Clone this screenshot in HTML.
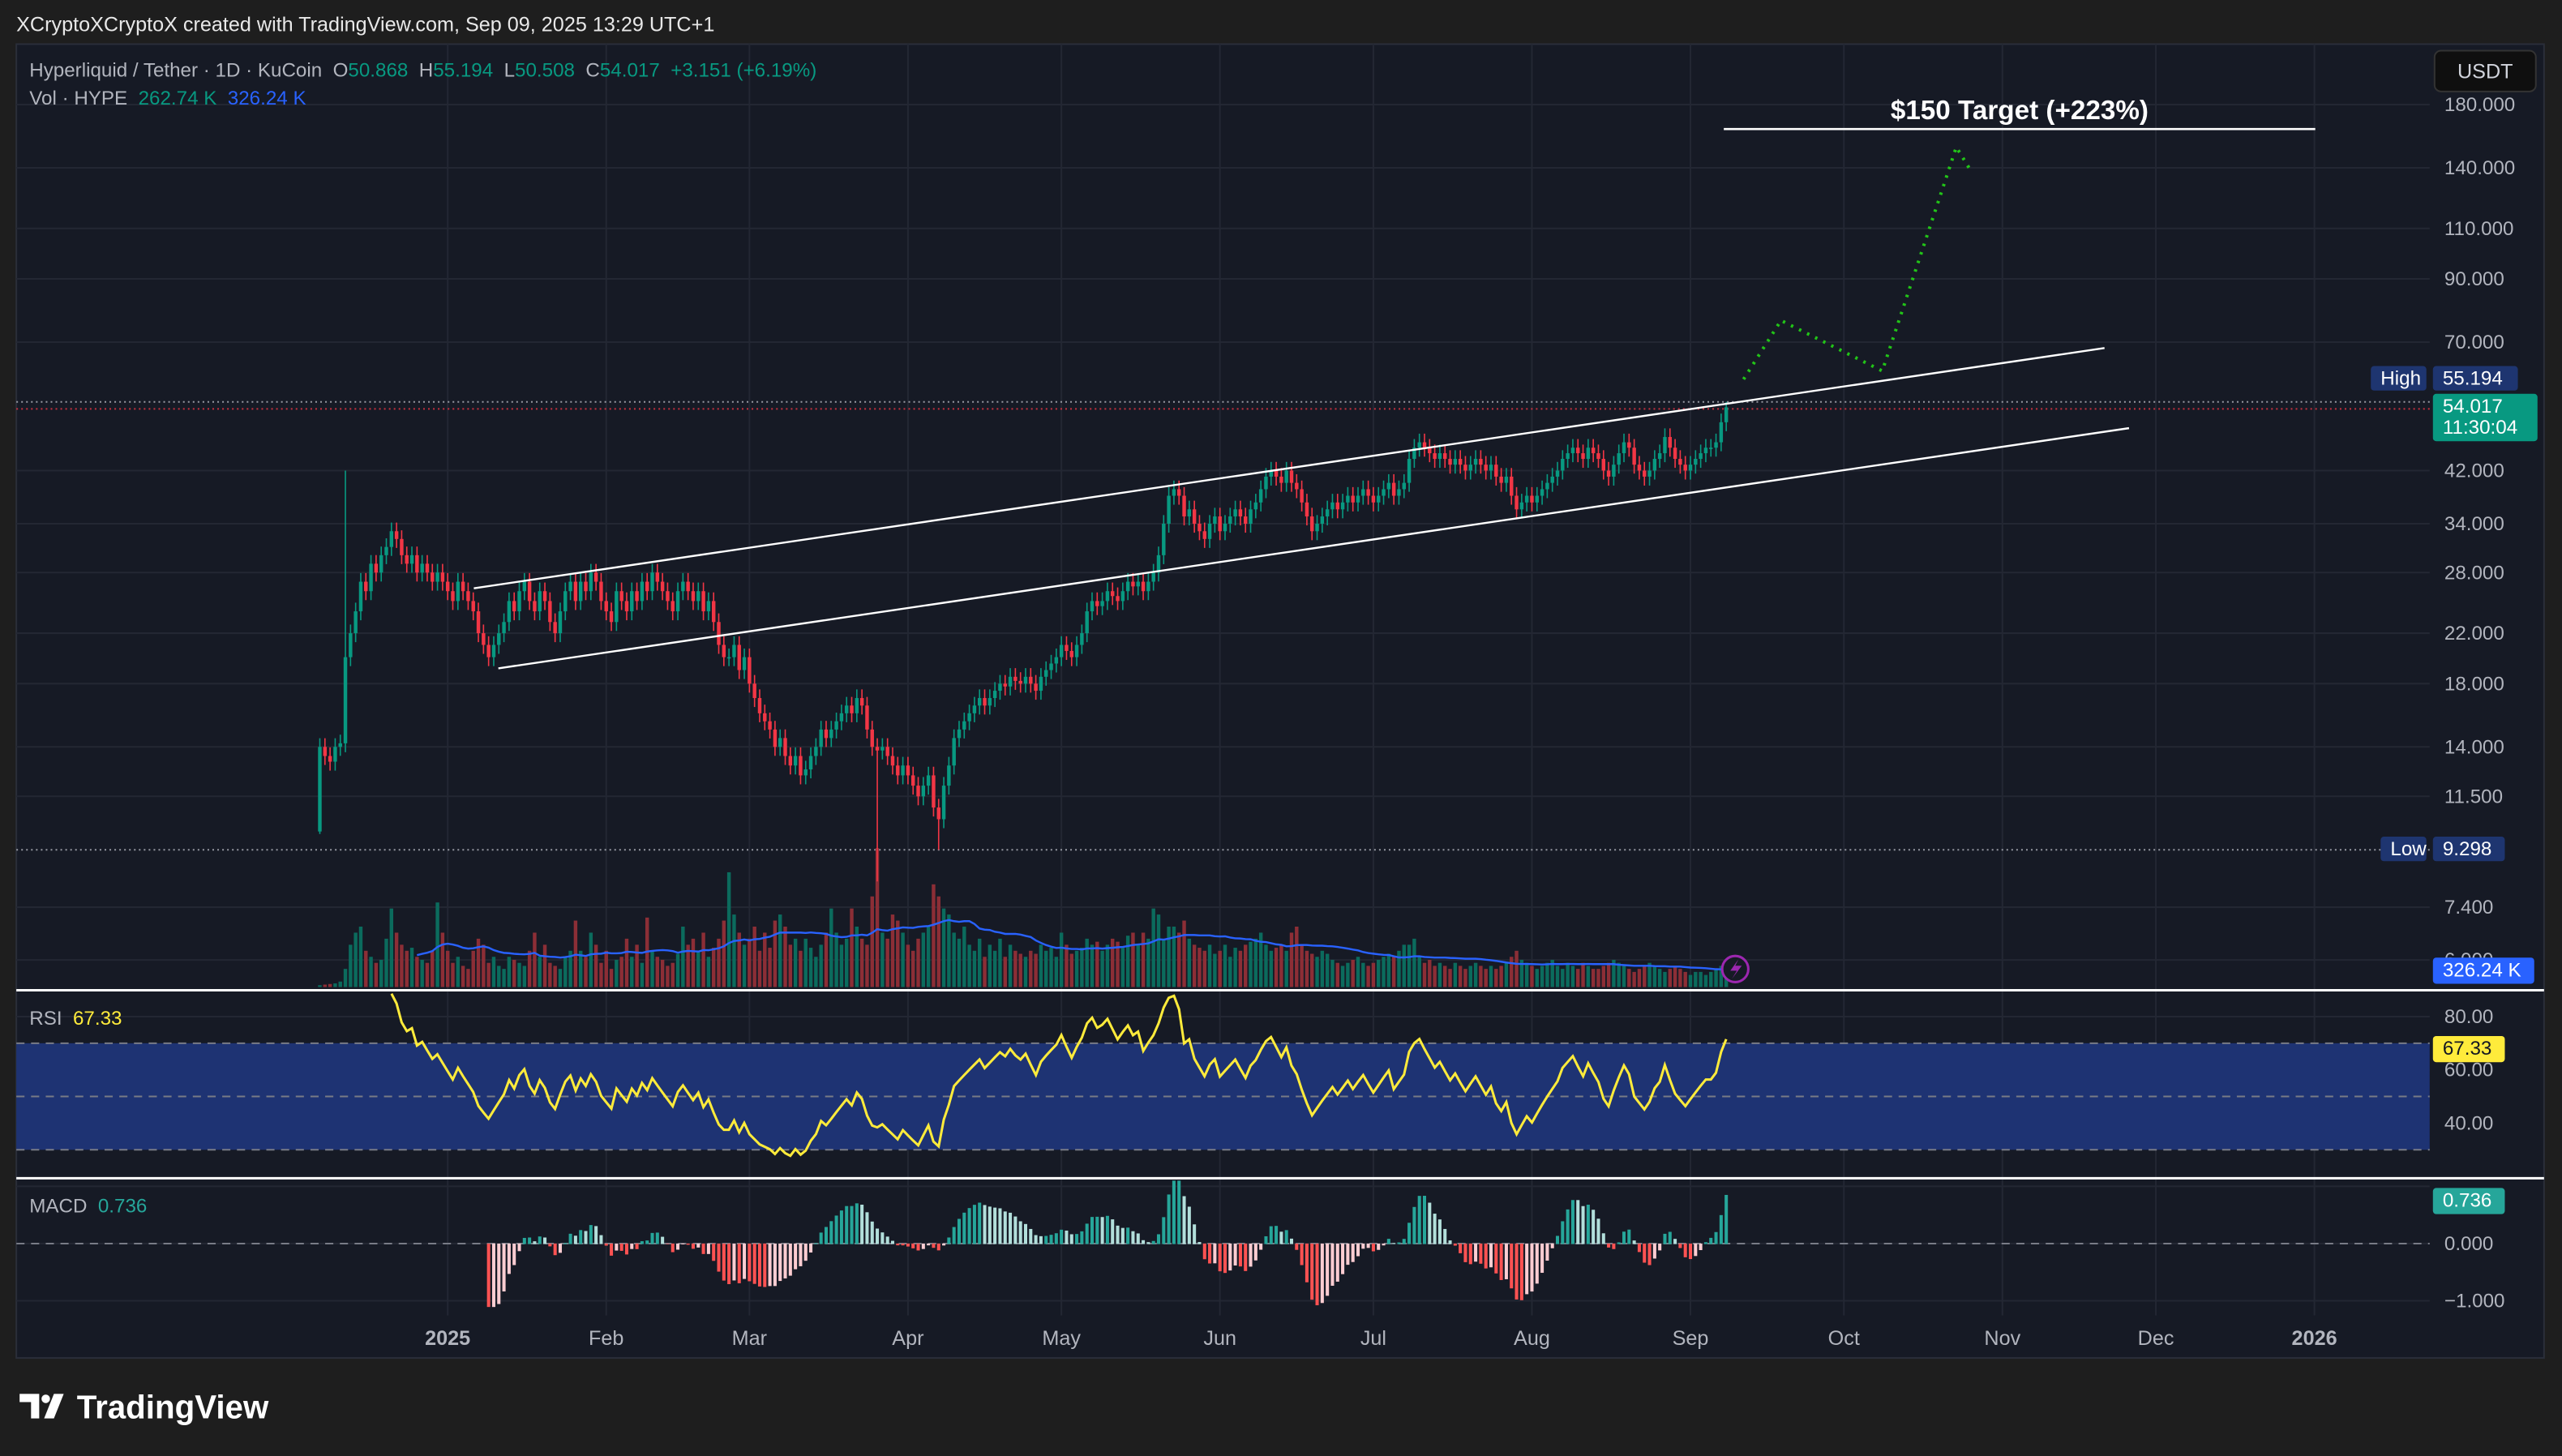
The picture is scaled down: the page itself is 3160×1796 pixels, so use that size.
<!DOCTYPE html>
<html><head><meta charset="utf-8"><style>
html,body{margin:0;padding:0;background:#1e1e1e;width:3160px;height:1796px;overflow:hidden}
svg{display:block}
text{font-family:"Liberation Sans",sans-serif;white-space:pre}
</style></head><body>
<svg id="c" xmlns="http://www.w3.org/2000/svg" width="3160" height="1796" viewBox="0 0 1568 891" preserveAspectRatio="none"></svg>
<script>
const startDay = -25;
const closes = [
14,13.5,13.2,14,14.2,20,22,24,27,26,
29,28,30,31,33,32,30,29,30,28,
29,28,27,28,27,26,25,27,26,25,
24,22,21,20,21,22,23,25,24,26,
27,25,24,26,25,23,22,24,26,27,
25,27,26,28,27,25,24,23,26,25,
24,26,25,27,26,28,27,26,25,24,
26,27,26,25,26,24,25,23,21,20,
20,21,19,20,18,17,16,15.5,15,14,
14.5,13.5,13,13.5,12.5,12.8,13.5,14,15,14.5,
15,15.5,16,16.5,16,17,16.5,15,14,13.8,
14,13.5,13,12.5,13,12.5,12,11.5,12,12.5,
11,10.5,12,13,14.5,15,15.5,16,16.5,17,
16.5,17,17.5,18,17.8,18.5,18.2,18,18.5,18,
17.5,18.5,19,19.5,20,21,20.5,20,21,22,
24,25,24.5,25,26,25.5,25,26,27,26.5,
27,26,27,28,30,34,38,39,38,35,
36,34,33,32,34,35,33,34,35,36,
35,34,36,37,39,41,42,41,40,42,
40,39,37,35,33,34,35,36,37,36,
37,38,37,38,39,38,37,38,39,40,
38,39,40,44,46,47,46,45,44,45,
44,43,44,43,42,43,44,43,42,43,
41,40,41,38,36,37,38,37,38,39,
40,41,42,44,45,46,45,44,46,45,
44,42,41,43,45,47,46,43,42,41,
42,44,45,48,46,44,43,42,43,44,
45,46,46,47,50.9,54.017];
const firstOpen = 10;
const specialHighs = {5:42, 275:55.194};
const specialLows = {0:9.9, 109:8.2, 121:9.298};
const volumes = [
30,40,50,60,90,300,700,900,1000,600,
500,400,450,800,1300,900,700,600,650,500,
450,400,600,1400,900,600,400,500,350,300,
600,800,700,400,500,350,300,500,450,400,
350,600,900,500,700,400,350,300,500,600,
1100,600,500,900,700,400,600,300,450,500,
800,500,700,400,1150,600,500,450,350,400,
550,1000,700,800,600,900,500,650,800,1100,
1900,1200,900,700,800,1000,600,900,650,1100,
1200,1000,700,800,600,800,650,500,700,900,
1300,900,700,800,1300,1000,800,700,1500,2300,
900,800,1200,1100,900,700,600,800,900,1000,
1700,1500,1300,1200,900,800,1000,700,600,800,
500,700,600,800,500,700,600,550,500,600,
550,700,600,650,500,900,700,550,600,650,
800,700,750,600,700,800,750,650,850,900,
700,900,800,1300,1200,800,1000,1000,900,1100,
800,700,650,600,700,550,600,700,500,650,
600,700,750,800,900,700,600,650,700,600,
900,1000,700,600,550,500,600,550,450,400,
350,400,450,500,400,350,400,450,500,550,
500,600,700,700,800,500,400,450,350,400,
350,300,400,350,300,350,400,350,300,350,
300,350,400,500,600,450,400,350,300,350,
400,450,350,300,400,350,300,400,350,300,
300,350,400,450,400,350,300,250,300,350,
400,350,300,250,300,350,300,250,200,250,
250,200,250,300,350,263];
const priceTicks = [180,140,110,90,70,42,34,28,22,18,14,11.5,7.4,6];
const priceTickLabels = ["180.000","140.000","110.000","90.000","70.000","42.000","34.000","28.000","22.000","18.000","14.000","11.500","7.400","6.000"];
const months = ["2025","Feb","Mar","Apr","May","Jun","Jul","Aug","Sep","Oct","Nov","Dec","2026"];
const monthDays = [0,31,59,90,120,151,181,212,243,273,304,334,365];
const rsiTicks = [80,60,40];
const macdTicks = [0,-1];
const macdTickLabels = ["0.000","\u22121.000"];
const projection = [[253.4,60.4],[260.7,76.3],[280.5,62.4],[295,152],[297.5,139.8]];

const S = document.getElementById('c');
const NS = 'http://www.w3.org/2000/svg';
function mk(tag, attrs, parent){const e=document.createElementNS(NS,tag);for(const k in attrs)e.setAttribute(k,attrs[k]);(parent||S).appendChild(e);return e;}
function tx(str, attrs, parent){const e=mk('text',attrs,parent);e.textContent=str;return e;}
const X = d => 274 + d*3.13;
const Y = p => 64 + (Math.log(180) - Math.log(p))*153.9;
const RY = v => 671 - (v-50)*1.63;
const MY = v => 761 - v*35;
const VY = v => 604 - v/2300*85;
const L=10, R=1487;

let e;
e=mk('rect',{x:0,y:0,width:1568,height:891,fill:'#1e1e1e'});


e=mk('rect',{x:10,y:27,width:1547,height:804,fill:'#161a25',stroke:'#2a2e39','stroke-width':1});


e=tx('XCryptoXCryptoX created with TradingView.com, Sep 09, 2025 13:29 UTC+1',{x:10,y:19,fill:'#e8e8e8','font-size':12.5});



const grid = mk('g',{stroke:'#232733','stroke-width':1});


monthDays.forEach(d=>{mk('line',{x1:X(d),x2:X(d),y1:27,y2:805},grid);});
priceTicks.forEach(p=>{mk('line',{x1:L,x2:R,y1:Y(p),y2:Y(p)},grid);});
rsiTicks.forEach(v=>{mk('line',{x1:L,x2:R,y1:RY(v),y2:RY(v)},grid);});
[1,0,-1].forEach(v=>{mk('line',{x1:L,x2:R,y1:MY(v),y2:MY(v)},grid);});

const pa = mk('g',{fill:'#b2b5be','font-size':12});


priceTicks.forEach((p,i)=>{const t=tx(priceTickLabels[i],{x:1496,y:Y(p)+4},pa);

});

const ta = mk('g',{fill:'#b2b5be','font-size':12.5,'text-anchor':'middle'});


months.forEach((m,i)=>{const t=tx(m,{x:X(monthDays[i]),y:823,'font-weight':(m.length===4?'bold':'normal')},ta);

});

e=mk('line',{x1:L,x2:R,y1:Y(55.194),y2:Y(55.194),stroke:'#9598a1','stroke-dasharray':'1 2'});


e=mk('line',{x1:L,x2:R,y1:Y(54.017)+1,y2:Y(54.017)+1,stroke:'#f23645','stroke-dasharray':'1 2','opacity':0.8});


e=mk('line',{x1:L,x2:R,y1:Y(9.298),y2:Y(9.298),stroke:'#9598a1','stroke-dasharray':'1 2'});



const vg = mk('g',{});


const opens = closes.map((c,i)=> i===0?firstOpen:closes[i-1]);
volumes.forEach((v,i)=>{const up=closes[i]>=opens[i];
const b=mk('rect',{x:X(startDay+i)-1.1,y:VY(v),width:2.2,height:604-VY(v),fill:up?'#0b6b5d':'#8c2e36'},vg);

});
let vma='';
for(let i=19;i<volumes.length;i++){let s=0;for(let j=i-19;j<=i;j++)s+=volumes[j];vma+=(vma?'L':'M')+X(startDay+i).toFixed(1)+','+VY(s/20).toFixed(1);}
e=mk('path',{d:vma,fill:'none',stroke:'#2962ff','stroke-width':1.2});



const cg = mk('g',{});


closes.forEach((c,i)=>{const o=opens[i];const up=c>=o;const col=up?'#089981':'#f23645';
const hi = specialHighs[i]!==undefined?specialHighs[i]:Math.max(o,c)*1.035;
const lo = specialLows[i]!==undefined?specialLows[i]:Math.min(o,c)*0.965;
const x=X(startDay+i);
const w=mk('line',{x1:x,x2:x,y1:Y(hi),y2:Y(lo),stroke:col,'stroke-width':0.8},cg);


const yt=Y(Math.max(o,c)), yb=Y(Math.min(o,c));
const b=mk('rect',{x:x-1.1,y:yt,width:2.2,height:Math.max(0.8,yb-yt),fill:col},cg);

});

e=mk('line',{x1:290,y1:360,x2:1288,y2:213,stroke:'#ffffff','stroke-width':1.2});


e=mk('line',{x1:305,y1:409,x2:1303,y2:262,stroke:'#ffffff','stroke-width':1.2});



let pp='';projection.forEach((q,i)=>{pp+=(i?'L':'M')+X(q[0]).toFixed(1)+','+Y(q[1]).toFixed(1);});
e=mk('path',{d:pp,fill:'none',stroke:'#22c418','stroke-width':2,'stroke-dasharray':'1.5 4'});


e=mk('line',{x1:1055,x2:1417,y1:79,y2:79,stroke:'#ffffff','stroke-width':1.3});


e=tx('$150 Target (+223%)',{x:1236,y:73,fill:'#ffffff','font-size':16.5,'font-weight':'bold','text-anchor':'middle'});



e=mk('line',{x1:10,x2:1557,y1:606,y2:606,stroke:'#ffffff','stroke-width':1.5});


e=mk('line',{x1:10,x2:1557,y1:721,y2:721,stroke:'#ffffff','stroke-width':1.5});



e=mk('rect',{x:L,y:RY(70),width:R-L,height:RY(30)-RY(70),fill:'#1e3373'});


[70,50,30].forEach(v=>{const l=mk('line',{x1:L,x2:R,y1:RY(v),y2:RY(v),stroke:'#787b86','stroke-dasharray':'5 4','stroke-width':1});

});
let ag=0,al=0,rp='';
for(let i=1;i<closes.length;i++){const ch=closes[i]-closes[i-1];const g=Math.max(ch,0),lo=Math.max(-ch,0);
if(i<=14){ag+=g/14;al+=lo/14;}else{ag=(ag*13+g)/14;al=(al*13+lo)/14;}
if(i>=14){const r=al===0?100:100-100/(1+ag/al);rp+=(rp?'L':'M')+X(startDay+i).toFixed(1)+','+RY(r).toFixed(1);}}
e=mk('path',{d:rp,fill:'none',stroke:'#ffeb3b','stroke-width':1.5});


rsiTicks.forEach(v=>{const t=tx(v.toFixed(2),{x:1496,y:RY(v)+4,fill:'#b2b5be','font-size':12});

});

e=mk('line',{x1:L,x2:R,y1:MY(0),y2:MY(0),stroke:'#787b86','stroke-dasharray':'5 4'});


let e12=closes[0],e26=closes[0],sig=0,prevH=0;const k12=2/13,k26=2/27,k9=0.2;
const mg=mk('g',{});


closes.forEach((c,i)=>{e12=c*k12+e12*(1-k12);e26=c*k26+e26*(1-k26);const m=e12-e26;
sig = i===0?m:m*k9+sig*(1-k9);const h=m-sig;
if(i>=33){const col=h>=0?(h>=prevH?'#26a69a':'#b2dfdb'):(h<prevH?'#ff5252':'#ffcdd2');
const y0=MY(0),y1=MY(Math.max(-1.1,Math.min(1.1,h)));
const b=mk('rect',{x:X(startDay+i)-1,y:Math.min(y0,y1),width:2,height:Math.abs(y1-y0)+0.3,fill:col},mg);

}
prevH=h;});
macdTicks.forEach((v,i)=>{const t=tx(macdTickLabels[i],{x:1496,y:MY(v)+4,fill:'#b2b5be','font-size':12});

});

const lg=mk('g',{'font-size':12});


e=mk('text',{x:18,y:47,fill:'#b2b5be'},lg);
e.innerHTML='Hyperliquid / Tether · 1D · KuCoin  O<tspan fill="#089981">50.868</tspan>  H<tspan fill="#089981">55.194</tspan>  L<tspan fill="#089981">50.508</tspan>  C<tspan fill="#089981">54.017  +3.151 (+6.19%)</tspan>';


e=mk('text',{x:18,y:64,fill:'#b2b5be'},lg);
e.innerHTML='Vol · HYPE  <tspan fill="#089981">262.74 K</tspan>  <tspan fill="#2962ff">326.24 K</tspan>';


e=mk('text',{x:18,y:627,fill:'#b2b5be'},lg);
e.innerHTML='RSI  <tspan fill="#ffeb3b">67.33</tspan>';


e=mk('text',{x:18,y:742,fill:'#b2b5be'},lg);
e.innerHTML='MACD  <tspan fill="#26a69a">0.736</tspan>';



function badge(name,x,y,w,h,fill,label,tcol){const g=mk('g',{});


mk('rect',{x:x,y:y,width:w,height:h,rx:2,fill:fill},g);
label.forEach((s,i)=>tx(s,{x:x+6,y:y+11.5+i*13,fill:tcol,'font-size':12},g));}
badge('high-tag',1451,224,34,15,'#1e3570',['High'],'#ffffff');
badge('high-price-tag',1489,224,52,15,'#1e3570',['55.194'],'#ffffff');
badge('last-price-tag',1489,241,64,29,'#089981',['54.017','11:30:04'],'#ffffff');
badge('low-tag',1457,512,28,15,'#1e3570',['Low'],'#ffffff');
badge('low-price-tag',1489,512,44,15,'#1e3570',['9.298'],'#ffffff');
badge('volume-ma-tag',1489,586,62,16,'#2962ff',['326.24 K'],'#ffffff');
badge('rsi-value-tag',1489,634,44,16,'#ffeb3b',['67.33'],'#131722');
badge('macd-value-tag',1489,727,44,16,'#26a69a',['0.736'],'#ffffff');

const ub=mk('g',{});


mk('rect',{x:1490,y:31,width:62,height:25,rx:4,fill:'#0f0f0f',stroke:'#333','stroke-width':1},ub);
tx('USDT',{x:1521,y:48,fill:'#d1d4dc','font-size':12.5,'text-anchor':'middle'},ub);

const li=mk('g',{});


mk('circle',{cx:1062,cy:593,r:8,fill:'#161a25',stroke:'#9c27b0','stroke-width':1.5},li);
mk('path',{d:'M1064,587 L1059,594 L1063,594 L1060,599 L1066,591 L1062,591 Z',fill:'#9c27b0'},li);

const lo=mk('g',{});


mk('path',{d:'M12,853 h12 v15 h-5 v-10 h-7 Z',fill:'#ffffff'},lo);
mk('circle',{cx:28,cy:856,r:2.6,fill:'#ffffff'},lo);
mk('path',{d:'M33,853 h6 l-6,15 h-6 Z',fill:'#ffffff'},lo);
tx('TradingView',{x:47,y:868,fill:'#ffffff','font-size':20,'font-weight':'bold'},lo);
</script>
</body></html>
